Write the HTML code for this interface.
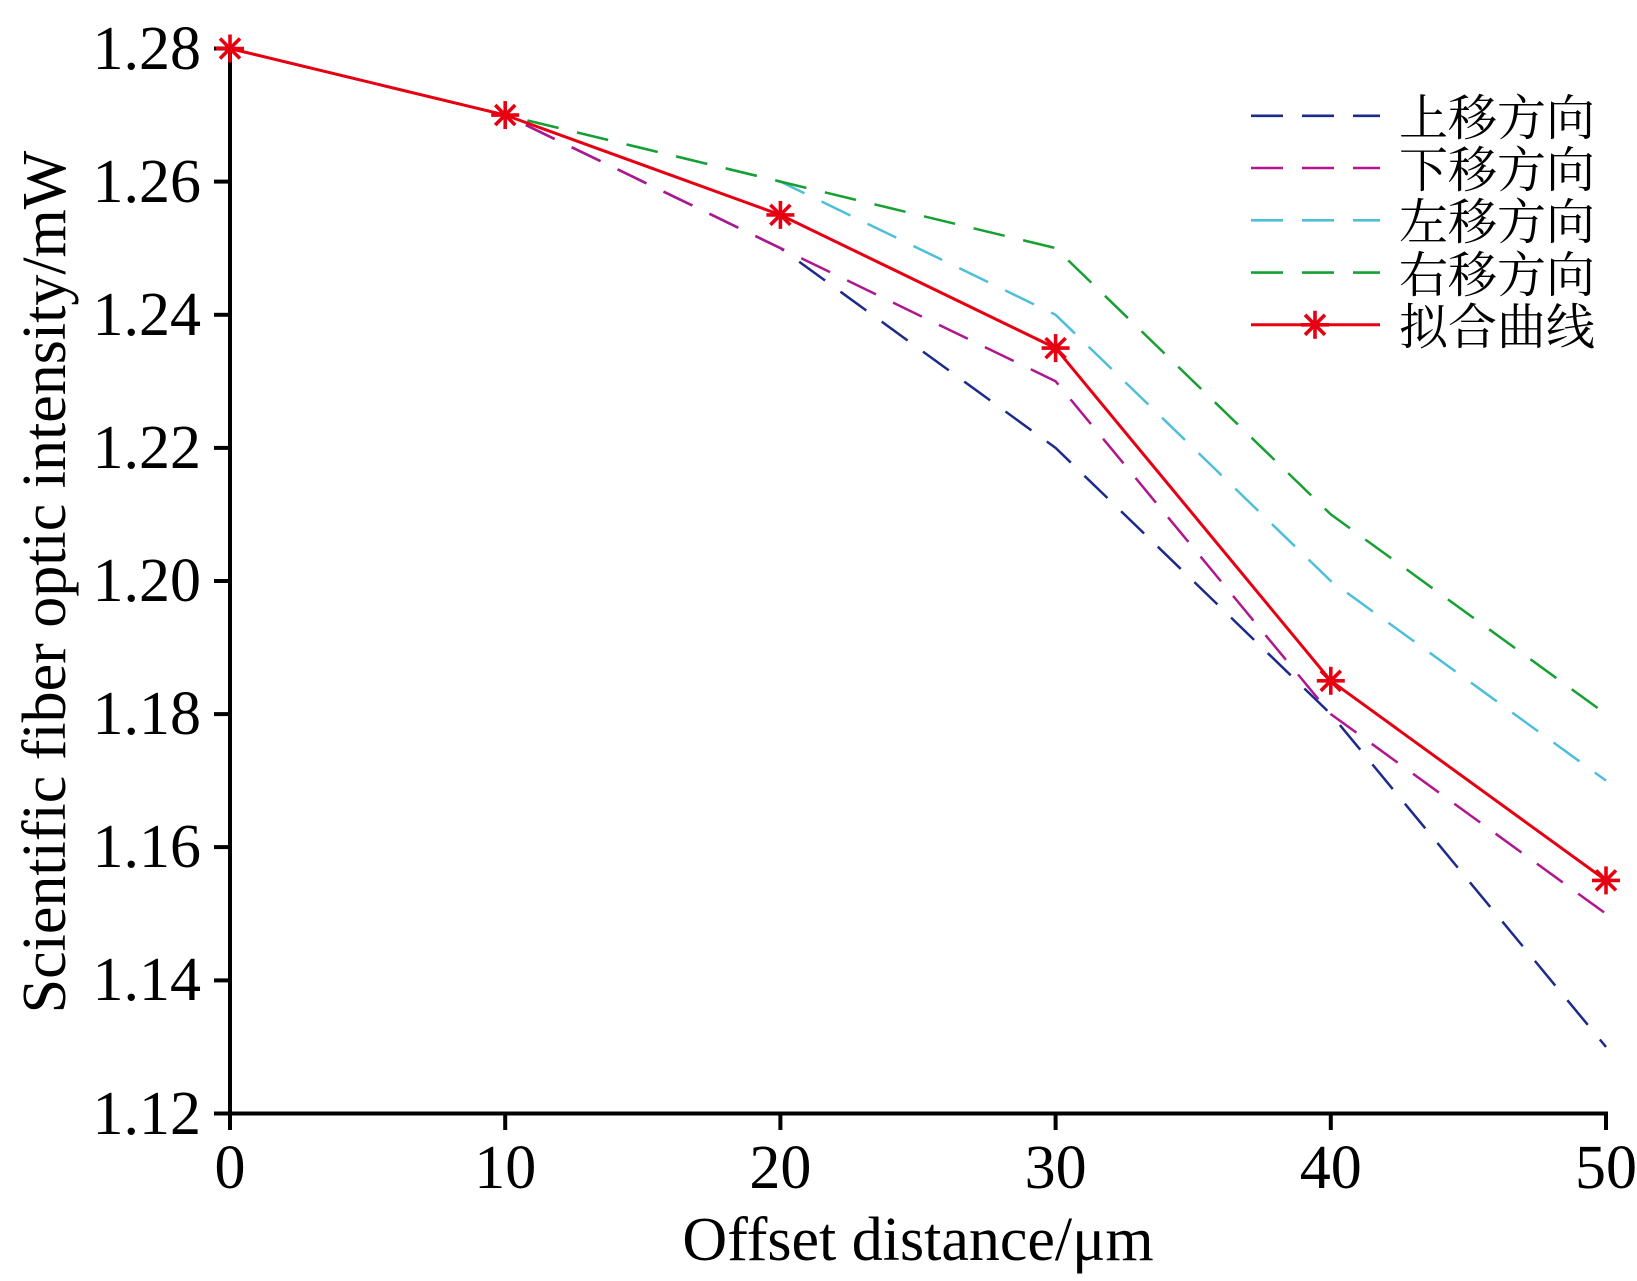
<!DOCTYPE html>
<html>
<head>
<meta charset="utf-8">
<style>
html,body{margin:0;padding:0;background:#fff;}
svg{display:block;}
</style>
</head>
<body>
<svg width="1637" height="1281" viewBox="0 0 1637 1281" xmlns="http://www.w3.org/2000/svg">
<rect width="1637" height="1281" fill="#fff"/>
<defs>
<g id="ast">
<line x1="-14" y1="0" x2="14" y2="0"/>
<line x1="0" y1="-14" x2="0" y2="14"/>
<line x1="-10" y1="-10" x2="10" y2="10"/>
<line x1="-10" y1="10" x2="10" y2="-10"/>
</g>
</defs>

<!-- axes -->
<g stroke="#000" stroke-width="4" fill="none" stroke-linecap="butt">
<line x1="230" y1="46.5" x2="230" y2="1130"/>
<line x1="214" y1="1113.5" x2="1608" y2="1113.5"/>
<line x1="214" y1="48.5" x2="230" y2="48.5"/>
<line x1="214" y1="181.6" x2="230" y2="181.6"/>
<line x1="214" y1="314.8" x2="230" y2="314.8"/>
<line x1="214" y1="447.9" x2="230" y2="447.9"/>
<line x1="214" y1="581" x2="230" y2="581"/>
<line x1="214" y1="714.1" x2="230" y2="714.1"/>
<line x1="214" y1="847.1" x2="230" y2="847.1"/>
<line x1="214" y1="980.4" x2="230" y2="980.4"/>
<line x1="505.2" y1="1113.5" x2="505.2" y2="1130"/>
<line x1="780.4" y1="1113.5" x2="780.4" y2="1130"/>
<line x1="1055.6" y1="1113.5" x2="1055.6" y2="1130"/>
<line x1="1330.8" y1="1113.5" x2="1330.8" y2="1130"/>
<line x1="1606" y1="1113.5" x2="1606" y2="1130"/>
</g>

<!-- y tick labels -->
<g font-family="'Liberation Serif', serif" font-size="62" fill="#000" text-anchor="end">
<text x="201" y="69">1.28</text>
<text x="201" y="202">1.26</text>
<text x="201" y="335">1.24</text>
<text x="201" y="468">1.22</text>
<text x="201" y="601">1.20</text>
<text x="201" y="734">1.18</text>
<text x="201" y="867">1.16</text>
<text x="201" y="1000">1.14</text>
<text x="201" y="1134">1.12</text>
</g>

<!-- x tick labels -->
<g font-family="'Liberation Serif', serif" font-size="62" fill="#000" text-anchor="middle">
<text x="230" y="1188">0</text>
<text x="505.2" y="1188">10</text>
<text x="780.4" y="1188">20</text>
<text x="1055.6" y="1188">30</text>
<text x="1330.8" y="1188">40</text>
<text x="1606" y="1188">50</text>
</g>

<!-- axis titles -->
<text x="918" y="1260" font-family="'Liberation Serif', serif" font-size="62" fill="#000" text-anchor="middle">Offset distance/μm</text>
<text x="65" y="582" font-family="'Liberation Serif', serif" font-size="62" fill="#000" text-anchor="middle" transform="rotate(-90 65 582)">Scientific fiber optic intensity/mW</text>

<!-- series -->
<g fill="none" stroke-width="2.5" stroke-dasharray="32 19" stroke-linejoin="round">
<polyline stroke="#1c2a8c" points="230,48.5 505.2,115.06 780.4,248.1 1055.6,447.9 1330.8,714.1 1606,1046.9"/>
<polyline stroke="#b0168e" points="230,48.5 505.2,115.06 780.4,248.1 1055.6,381.3 1330.8,714.1 1606,913.8"/>
<polyline stroke="#4ebfdb" points="230,48.5 505.2,115.06 780.4,181.6 1055.6,314.8 1330.8,581 1606,780.6"/>
<polyline stroke="#17a032" points="230,48.5 505.2,115.06 780.4,181.6 1055.6,248.1 1330.8,514.4 1606,714.1"/>
</g>
<polyline fill="none" stroke="#e60012" stroke-width="3" points="230,48.5 505.2,115.06 780.4,214.9 1055.6,348.1 1330.8,680.8 1606,880.4"/>
<g stroke="#e60012" stroke-width="3.6" stroke-linecap="butt">
<use href="#ast" x="230" y="48.5"/>
<use href="#ast" x="505.2" y="115.06"/>
<use href="#ast" x="780.4" y="214.9"/>
<use href="#ast" x="1055.6" y="348.1"/>
<use href="#ast" x="1330.8" y="680.8"/>
<use href="#ast" x="1606" y="880.4"/>
</g>

<!-- legend -->
<g fill="none" stroke-width="2.6" stroke-dasharray="32 19">
<line x1="1251" y1="115.8" x2="1380" y2="115.8" stroke="#1c2a8c"/>
<line x1="1251" y1="168" x2="1380" y2="168" stroke="#b0168e"/>
<line x1="1251" y1="220.3" x2="1380" y2="220.3" stroke="#4ebfdb"/>
<line x1="1251" y1="272.6" x2="1380" y2="272.6" stroke="#17a032"/>
</g>
<line x1="1251" y1="324.8" x2="1380" y2="324.8" stroke="#e60012" stroke-width="3"/>
<g stroke="#e60012" stroke-width="3.6">
<use href="#ast" x="1315" y="324.8"/>
</g>
<g font-family="'Liberation Serif', 'Noto Serif CJK SC', 'Noto Sans CJK SC', serif" font-size="49" fill="#000">
<text x="1399" y="135">上移方向</text>
<text x="1399" y="187">下移方向</text>
<text x="1399" y="239">左移方向</text>
<text x="1399" y="292">右移方向</text>
<text x="1399" y="344">拟合曲线</text>
</g>
</svg>
</body>
</html>
